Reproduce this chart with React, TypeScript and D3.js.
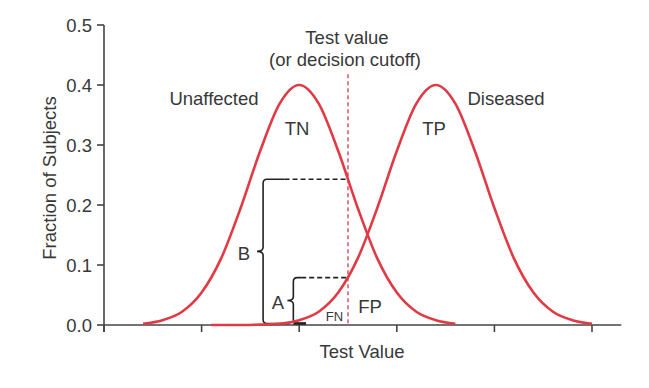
import React from 'react'
import * as d3 from 'd3'

// y axis ticks
const yTicks = [0, 0.1, 0.2, 0.3, 0.4, 0.5]
// x axis ticks (unlabelled)
const xTicks = [0, 1, 2, 3, 4, 5]

// curve samples
const unaffectedX = [0.4, 0.6, 0.8, 1.0, 1.2, 1.4, 1.6, 1.8, 2.0, 2.2, 2.4, 2.6, 2.8, 3.0, 3.2, 3.4, 3.6]
const unaffectedY = [0.002, 0.008, 0.022, 0.054, 0.111, 0.195, 0.29, 0.369, 0.4, 0.369, 0.29, 0.195, 0.111, 0.054, 0.022, 0.008, 0.002]
const diseasedX = [1.1, 1.4, 1.6, 1.8, 2.0, 2.2, 2.4, 2.6, 2.8, 3.0, 3.2, 3.4, 3.6, 3.8, 4.0, 4.2, 4.4, 4.6, 4.8, 5.0]
const diseasedY = [0.0, 0.0001, 0.0006, 0.002, 0.008, 0.022, 0.054, 0.111, 0.195, 0.29, 0.369, 0.4, 0.369, 0.29, 0.195, 0.111, 0.054, 0.022, 0.008, 0.002]

// decision cutoff and the heights of the curves there
const cutoff = 2.5
const cutoffTop = 0.418
const unaffectedAtCutoff = 0.243
const diseasedAtCutoff = 0.079

const FONT = '"Liberation Sans", Arial, Helvetica, sans-serif'
const RED = '#e03a45'
const INK = '#383838'

export default function App() {
  const width = 649,
    height = 388

  const x = d3.scaleLinear().domain([0, 5]).range([104, 592])
  const y = d3.scaleLinear().domain([0, 0.5]).range([325, 25])

  const line = d3
    .line<[number, number]>()
    .x(d => x(d[0]))
    .y(d => y(d[1]))
    .curve(d3.curveMonotoneX)

  const unaffected = unaffectedX.map((v, i) => [v, unaffectedY[i]] as [number, number])
  const diseased = diseasedX.map((v, i) => [v, diseasedY[i]] as [number, number])

  // curly bracket: vertical at xv, from yTop down to yBot, cusp pointing left
  const brace = (xv: number, yTop: number, yBot: number, xTopEnd: number, xBotEnd: number) => {
    const r = 4
    const yMid = (yTop + yBot) / 2
    return [
      `M${xTopEnd},${yTop}`,
      `H${xv + r}`,
      `Q${xv},${yTop} ${xv},${yTop + r}`,
      `V${yMid - r}`,
      `Q${xv},${yMid} ${xv - 6},${yMid}`,
      `Q${xv},${yMid} ${xv},${yMid + r}`,
      `V${yBot - r}`,
      `Q${xv},${yBot} ${xv + r},${yBot}`,
      `H${xBotEnd}`
    ].join(' ')
  }

  const bX = x(1.63),
    aX = x(1.94)
  const bTop = y(unaffectedAtCutoff),
    aTop = y(diseasedAtCutoff),
    base = y(0) - 1.5

  const text = { fontFamily: FONT, fill: INK, fontSize: 18.5 }

  return (
    <svg
      width={width}
      height={height}
      style={{ position: 'absolute', left: 0, top: 0, background: '#fff' }}
    >
      {/* axes */}
      <g stroke="#444" strokeWidth={1.6}>
        <line x1={x(0)} x2={x(0)} y1={y(0.5)} y2={y(0) + 7} />
        <line x1={x(0)} x2={x(5.3)} y1={y(0)} y2={y(0)} />
        {yTicks.map((t, i) => (
          <line key={i} x1={x(0) - 7} x2={x(0)} y1={y(t)} y2={y(t)} />
        ))}
        {xTicks.map((t, i) => (
          <line key={i} x1={x(t)} x2={x(t)} y1={y(0)} y2={y(0) + 7} />
        ))}
      </g>
      <g style={text} textAnchor="end">
        {yTicks.map((t, i) => (
          <text key={i} x={x(0) - 12} y={y(t) + 6.5}>
            {t.toFixed(1)}
          </text>
        ))}
      </g>
      <text style={text} x={362} y={358} textAnchor="middle">
        Test Value
      </text>
      <text
        style={text}
        textAnchor="middle"
        transform={`translate(56, ${y(0.245)}) rotate(-90)`}
      >
        Fraction of Subjects
      </text>

      {/* cutoff */}
      <line
        x1={x(cutoff)}
        x2={x(cutoff)}
        y1={y(cutoffTop)}
        y2={y(0)}
        stroke="#d9485a"
        strokeWidth={1.4}
        strokeDasharray="4,3"
      />
      <text style={text} x={347} y={44} textAnchor="middle">
        Test value
      </text>
      <text style={text} x={345} y={66} textAnchor="middle">
        (or decision cutoff)
      </text>

      {/* brackets */}
      <g fill="none" stroke="#222" strokeWidth={1.6}>
        <path d={brace(bX, bTop, base, x(1.85), x(1.9))} />
        <path d={brace(aX, aTop, base, x(2.02), x(2.07))} />
        <line x1={aX} x2={x(2.07)} y1={base} y2={base} strokeWidth={2.6} />
      </g>
      <g fill="none" stroke="#222" strokeWidth={1.6} strokeDasharray="5,3">
        <line x1={x(1.85)} x2={x(cutoff)} y1={bTop} y2={bTop} />
        <line x1={x(2.02)} x2={x(cutoff)} y1={aTop} y2={aTop} />
      </g>

      {/* curves */}
      <g fill="none" stroke={RED} strokeWidth={2.6}>
        <path d={line(unaffected) ?? ''} />
        <path d={line(diseased) ?? ''} />
      </g>

      {/* labels */}
      <text style={text} x={214} y={105} textAnchor="middle">
        Unaffected
      </text>
      <text style={text} x={506} y={105} textAnchor="middle">
        Diseased
      </text>
      <text style={text} x={297} y={135} textAnchor="middle">
        TN
      </text>
      <text style={text} x={434} y={135} textAnchor="middle">
        TP
      </text>
      <text style={text} x={244} y={260} textAnchor="middle">
        B
      </text>
      <text style={text} x={278} y={309} textAnchor="middle">
        A
      </text>
      <text style={{ ...text, fontSize: 13 }} x={334.5} y={321} textAnchor="middle">
        FN
      </text>
      <text style={text} x={370} y={313} textAnchor="middle">
        FP
      </text>
    </svg>
  )
}
